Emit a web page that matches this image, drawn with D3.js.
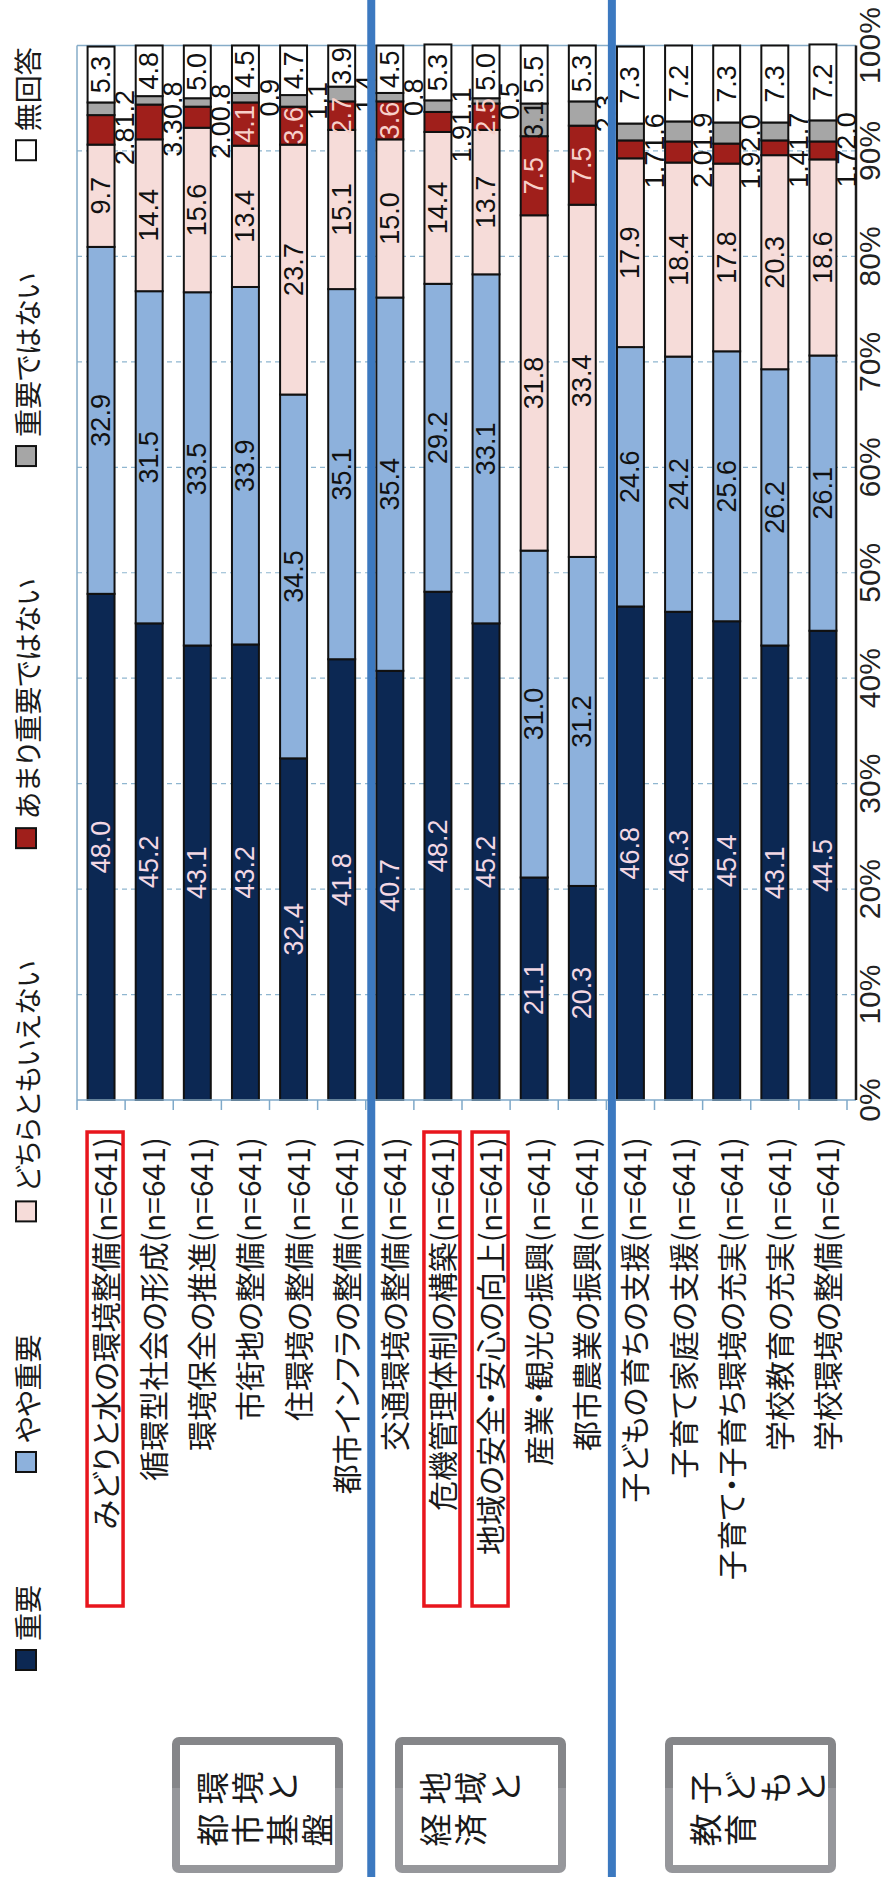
<!DOCTYPE html>
<html>
<head>
<meta charset="utf-8">
<script src="https://cdn.jsdelivr.net/npm/d3@7"></script>
<style>
  html, body { margin: 0; padding: 0; background: #ffffff; }
  svg { display: block; }
  .jp { font-family: "Noto Sans CJK JP", "Noto Sans", sans-serif; font-feature-settings: "palt"; }
  .num { font-family: "Liberation Sans", Arial, sans-serif; }
</style>
</head>
<body>
<svg id="chart" width="888" height="1877"></svg>
<script>
// ---- data -------------------------------------------------------------
const categories = [
  "みどりと水の環境整備", "循環型社会の形成", "環境保全の推進", "市街地の整備",
  "住環境の整備", "都市インフラの整備",
  "交通環境の整備", "危機管理体制の構築", "地域の安全・安心の向上",
  "産業・観光の振興", "都市農業の振興",
  "子どもの育ちの支援", "子育て家庭の支援", "子育て・子育ち環境の充実",
  "学校教育の充実", "学校環境の整備"
];
const sampleSize = 641;
const highlighted = ["みどりと水の環境整備", "危機管理体制の構築", "地域の安全・安心の向上"];

const groupLabels = [["環境と", "都市基盤"], ["地域と", "経済"], ["子どもと", "教育"]];
const groupSizes = [6, 5, 5];

const seriesNames = ["重要", "やや重要", "どちらともいえない", "あまり重要ではない", "重要ではない", "無回答"];
const important         = [48.0, 45.2, 43.1, 43.2, 32.4, 41.8, 40.7, 48.2, 45.2, 21.1, 20.3, 46.8, 46.3, 45.4, 43.1, 44.5];
const somewhatImportant = [32.9, 31.5, 33.5, 33.9, 34.5, 35.1, 35.4, 29.2, 33.1, 31.0, 31.2, 24.6, 24.2, 25.6, 26.2, 26.1];
const neutral           = [ 9.7, 14.4, 15.6, 13.4, 23.7, 15.1, 15.0, 14.4, 13.7, 31.8, 33.4, 17.9, 18.4, 17.8, 20.3, 18.6];
const notVeryImportant  = [ 2.8,  3.3,  2.0,  4.1,  3.6,  2.7,  3.6,  1.9,  2.5,  7.5,  7.5,  1.7,  2.0,  1.9,  1.4,  1.7];
const notImportant      = [ 1.2,  0.8,  0.8,  0.9,  1.1,  1.4,  0.8,  1.1,  0.5,  3.1,  2.3,  1.6,  1.9,  2.0,  1.7,  2.0];
const noAnswer          = [ 5.3,  4.8,  5.0,  4.5,  4.7,  3.9,  4.5,  5.3,  5.0,  5.5,  5.3,  7.3,  7.2,  7.3,  7.3,  7.2];

const valueTicks = [0, 10, 20, 30, 40, 50, 60, 70, 80, 90, 100];

// ---- styles -----------------------------------------------------------
const colors = ["#0c2853", "#8db1dc", "#f6dcd9", "#a01f1b", "#a6a6a6", "#ffffff"];
const labelColors = ["#f3d8e4", "#111111", "#111111", "#f7d0ca", "#111111", "#111111"];

// ---- table ------------------------------------------------------------
const seriesValues = [important, somewhatImportant, neutral, notVeryImportant, notImportant, noAnswer];
const table = categories.map((c, i) => {
  const row = { category: c };
  seriesNames.forEach((s, k) => { row[s] = seriesValues[k][i]; });
  return row;
});
const stacked = d3.stack().keys(seriesNames)(table);

// ---- layout (drawn landscape, turned a quarter counter-clockwise) ------
const W = 1877, H = 888;
const svg = d3.select("#chart");
const root = svg.append("g").attr("transform", `translate(0,${W}) rotate(-90)`);

const x = d3.scaleLinear().domain([0, 100]).range([777, 1831.5]);
const y = d3.scaleBand().domain(categories).range([77, 847]).paddingInner(0.44).paddingOuter(0.22);
const bw = y.bandwidth();
const step = y.step();
const plotTop = 77, plotBottom = 856;

// gridlines
root.append("g").selectAll("line")
  .data(valueTicks.filter(v => v > 0 && v < 100))
  .join("line")
  .attr("x1", d => x(d)).attr("x2", d => x(d))
  .attr("y1", plotTop).attr("y2", plotBottom)
  .attr("stroke", "#8fb6d0").attr("stroke-width", 1.2).attr("stroke-dasharray", "5,4");

// plot frame (light)
root.append("line").attr("x1", x(0)).attr("x2", x(100)).attr("y1", plotTop).attr("y2", plotTop)
  .attr("stroke", "#86acc8").attr("stroke-width", 1.5);
root.append("line").attr("x1", x(100)).attr("x2", x(100)).attr("y1", plotTop).attr("y2", plotBottom)
  .attr("stroke", "#86acc8").attr("stroke-width", 1.5);

// bars
const seriesG = root.append("g").selectAll("g")
  .data(stacked).join("g")
  .attr("fill", (d, i) => colors[i]);
seriesG.selectAll("rect")
  .data(d => d.map(p => Object.assign(p, { key: d.key })))
  .join("rect")
  .attr("x", d => x(d[0]))
  .attr("y", d => y(d.data.category))
  .attr("width", d => x(d[1]) - x(d[0]))
  .attr("height", bw)
  .attr("stroke", "#111").attr("stroke-width", 2);

// category axis
root.append("line").attr("x1", x(0)).attr("x2", x(0)).attr("y1", plotTop).attr("y2", plotBottom)
  .attr("stroke", "#7fa9c9").attr("stroke-width", 1.5);
const boundaries = d3.range(categories.length + 1).map(k => y.range()[0] + k * step);
root.append("g").selectAll("line").data(boundaries).join("line")
  .attr("x1", x(0)).attr("x2", x(0) - 10)
  .attr("y1", d => d).attr("y2", d => d)
  .attr("stroke", "#7fa9c9").attr("stroke-width", 1.5);

// value axis
root.append("line").attr("x1", x(0)).attr("x2", x(100)).attr("y1", plotBottom).attr("y2", plotBottom)
  .attr("stroke", "#1a1a1a").attr("stroke-width", 2.5);
root.append("g").selectAll("text").data(valueTicks).join("text")
  .attr("class", "num")
  .attr("x", d => x(d)).attr("y", 869.5)
  .attr("text-anchor", "middle").attr("dominant-baseline", "central")
  .attr("font-size", 30).attr("fill", "#222")
  .text(d => d + "%");

// category labels
root.append("g").selectAll("text").data(categories).join("text")
  .attr("class", "jp")
  .attr("x", 740).attr("y", d => y(d) + bw / 2 + 3)
  .attr("text-anchor", "end").attr("dominant-baseline", "central")
  .attr("font-size", 30).attr("fill", "#1a1a1a")
  .text(d => `${d}(n=${sampleSize})`);

// highlight frames
root.append("g").selectAll("rect").data(highlighted).join("rect")
  .attr("x", 271).attr("y", d => y(d) + bw / 2 + 4 - 18)
  .attr("width", 474).attr("height", 36)
  .attr("fill", "none").attr("stroke", "#e8161d").attr("stroke-width", 3.5);

// data labels
const redInside = new Set([3, 4, 5, 6, 8, 9, 10]);
const grayInside = new Set([9]);
const labelG = root.append("g").attr("class", "num").attr("font-size", 27);
categories.forEach((c, i) => {
  const yc = y(c) + bw / 2;
  const yOut = y(c) + bw + (step - bw) / 2;
  let grayStart = null;
  // labels inside their segments
  stacked.forEach((s, k) => {
    const seg = s[i];
    const inside = (k <= 2 || k === 5) || (k === 3 && redInside.has(i)) || (k === 4 && grayInside.has(i));
    if (!inside) return;
    labelG.append("text")
      .attr("x", (x(seg[0]) + x(seg[1])) / 2).attr("y", yc)
      .attr("text-anchor", "middle").attr("dominant-baseline", "central")
      .attr("fill", labelColors[k])
      .text(d3.format(".1f")(seg.data[s.key]));
  });
  // gray label outside, centred on its segment
  if (!grayInside.has(i)) {
    const seg = stacked[4][i];
    const t = labelG.append("text")
      .attr("x", (x(seg[0]) + x(seg[1])) / 2).attr("y", yOut)
      .attr("text-anchor", "middle").attr("dominant-baseline", "central")
      .attr("fill", "#111")
      .text(d3.format(".1f")(seg.data[stacked[4].key]));
    grayStart = (x(seg[0]) + x(seg[1])) / 2 - t.node().getComputedTextLength() / 2;
  }
  // red label outside, set just before the gray one
  if (!redInside.has(i)) {
    const seg = stacked[3][i];
    labelG.append("text")
      .attr("x", grayStart).attr("y", yOut)
      .attr("text-anchor", "end").attr("dominant-baseline", "central")
      .attr("fill", "#111")
      .text(d3.format(".1f")(seg.data[stacked[3].key]));
  }
});

// group separators
let acc = 0;
const sepPositions = [];
groupSizes.slice(0, -1).forEach(n => { acc += n; sepPositions.push(y.range()[0] + acc * step + 5.5); });
root.append("g").selectAll("line").data(sepPositions).join("line")
  .attr("x1", 0).attr("x2", W).attr("y1", d => d).attr("y2", d => d)
  .attr("stroke", "#3c79c0").attr("stroke-width", 8);

// group boxes
const defs = svg.append("defs");
const grad = defs.append("linearGradient").attr("id", "boxBorder")
  .attr("gradientUnits", "userSpaceOnUse").attr("x1", 4).attr("x2", 140).attr("y1", 0).attr("y2", 0);
grad.append("stop").attr("offset", 0).attr("stop-color", "#96979b");
grad.append("stop").attr("offset", 0.625).attr("stop-color", "#96979b");
grad.append("stop").attr("offset", 0.625).attr("stop-color", "#858689");
grad.append("stop").attr("offset", 1).attr("stop-color", "#858689");

const boxTops = [172, 395, 665];
const boxW = 171, boxLeft = 4, boxDepth = 136;
const boxG = root.append("g").selectAll("g").data(groupLabels).join("g")
  .attr("transform", (d, i) => `translate(0,${boxTops[i]})`);
boxG.append("rect")
  .attr("x", boxLeft + 4).attr("y", 4).attr("width", boxDepth - 8).attr("height", boxW - 8)
  .attr("rx", 3).attr("fill", "#fff").attr("stroke", "url(#boxBorder)").attr("stroke-width", 8);
const colX = [89, 47];
boxG.each(function(cols) {
  const g = d3.select(this);
  cols.forEach((txt, ci) => {
    Array.from(txt).forEach((ch, j) => {
      g.append("text").attr("class", "jp")
        .attr("x", colX[ci]).attr("y", 21 + 35 * (j + 0.5))
        .attr("text-anchor", "middle").attr("dominant-baseline", "central")
        .attr("font-size", 33).attr("fill", "#1a1a1a")
        .text(ch);
    });
  });
});

// legend
const legend = root.append("g").attr("class", "jp");
let lx = 207;
seriesNames.forEach((name, k) => {
  legend.append("rect").attr("x", lx).attr("y", 16).attr("width", 20).attr("height", 20)
    .attr("fill", colors[k]).attr("stroke", "#111").attr("stroke-width", 2);
  const t = legend.append("text").attr("x", lx + 29).attr("y", 27)
    .attr("dominant-baseline", "central").attr("font-size", 28).attr("fill", "#1a1a1a")
    .text(name);
  lx += 29 + t.node().getComputedTextLength() + 113;
});
</script>
</body>
</html>
